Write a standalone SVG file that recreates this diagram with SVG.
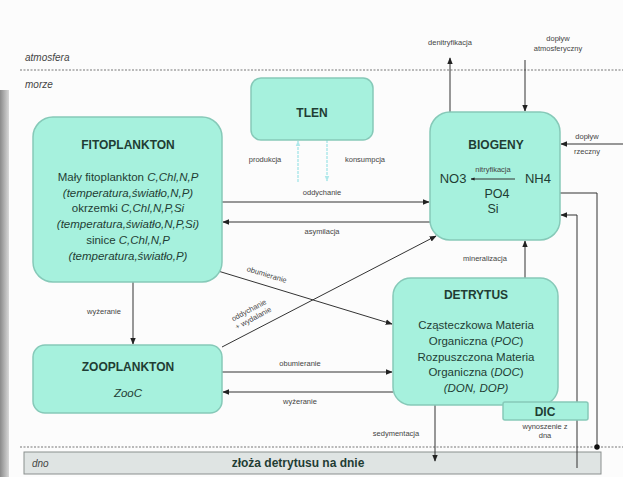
<svg xmlns="http://www.w3.org/2000/svg" width="623" height="477" viewBox="0 0 623 477">
<defs>
<style>
.box{fill:#a6f1dd;stroke:#86c9b8;stroke-width:1.5}
.t{font-family:"Liberation Sans",Arial,sans-serif;fill:#1f3d34;text-anchor:middle}
.b{font-weight:bold;font-size:12px}
.n{font-size:11.5px}
.i{font-style:italic}
.lbl{font-family:"Liberation Sans",Arial,sans-serif;font-size:7.5px;fill:#444;text-anchor:middle}
.zone{font-family:"Liberation Sans",Arial,sans-serif;font-size:10px;font-style:italic;fill:#444}
.ln{stroke:#333;stroke-width:1;fill:none}
.o2{stroke:#aee8ea;stroke-width:1.5;fill:none;stroke-dasharray:3 1}
.dot{stroke:#777;stroke-width:1;stroke-dasharray:2 1.5;fill:none}
</style>
<marker id="ar" viewBox="0 0 10 10" refX="9" refY="5" markerWidth="7" markerHeight="7" orient="auto-start-reverse" markerUnits="userSpaceOnUse"><path d="M0,1 L10,5 L0,9 z" fill="#222"/></marker>
<marker id="arc" viewBox="0 0 10 10" refX="9" refY="5" markerWidth="6" markerHeight="6" orient="auto" markerUnits="userSpaceOnUse"><path d="M0,1 L10,5 L0,9 z" fill="#aee8ea"/></marker>
<marker id="dt" viewBox="0 0 10 10" refX="5" refY="5" markerWidth="6" markerHeight="6" markerUnits="userSpaceOnUse"><circle cx="5" cy="5" r="4.5" fill="#111"/></marker>
<marker id="sm" viewBox="0 0 10 10" refX="9" refY="5" markerWidth="4" markerHeight="4" orient="auto" markerUnits="userSpaceOnUse"><path d="M0,1 L10,5 L0,9 z" fill="#222"/></marker>
<linearGradient id="strip" x1="0" y1="0" x2="1" y2="0"><stop offset="0" stop-color="#8a8a8a"/><stop offset="1" stop-color="#d8d8d8"/></linearGradient>
</defs>
<rect width="623" height="477" fill="#fcfcfc"/>
<rect x="0" y="90" width="9" height="387" fill="url(#strip)"/>

<!-- zones -->
<g id="zones">
<line class="dot" x1="20" y1="70" x2="623" y2="70"/>
<text class="zone" x="25" y="61">atmosfera</text>
<text class="zone" x="25" y="88">morze</text>
<line class="dot" x1="20" y1="447" x2="623" y2="447"/>
</g>

<g id="dno">
<rect x="24" y="452" width="577" height="22" fill="#dfe4e3" stroke="#8a8f8e" stroke-width="1"/>
<text class="zone" x="32" y="467" font-style="normal">dno</text>
<text class="t b" x="298" y="467" font-size="11.5">złoża detrytusu na dnie</text>
</g>

<!-- connectors -->
<g id="connectors">
<line class="ln" x1="222" y1="202" x2="429" y2="202" marker-end="url(#ar)"/>
<text class="lbl" x="322" y="195">oddychanie</text>
<line class="ln" x1="430" y1="222" x2="223" y2="222" marker-end="url(#ar)"/>
<text class="lbl" x="322" y="234">asymilacja</text>

<line class="o2" x1="298" y1="182" x2="298" y2="141" marker-end="url(#arc)"/>
<line class="o2" x1="327" y1="140" x2="327" y2="181" marker-end="url(#arc)"/>
<text class="lbl" x="265" y="162">produkcja</text>
<text class="lbl" x="365" y="162">konsumpcja</text>

<line class="ln" x1="133" y1="282" x2="133" y2="344" marker-end="url(#ar)"/>
<text class="lbl" x="104" y="314">wyżeranie</text>

<line class="ln" x1="218" y1="271" x2="392" y2="324" marker-end="url(#ar)"/>
<text class="lbl" transform="translate(266,277) rotate(17)">obumieranie</text>

<line class="ln" x1="222" y1="347" x2="436" y2="236" marker-end="url(#ar)"/>
<text class="lbl" transform="translate(252,316) rotate(-28)"><tspan x="0" y="-4">oddychanie</tspan><tspan x="0" y="5">+ wydalanie</tspan></text>

<line class="ln" x1="222" y1="372" x2="392" y2="372" marker-end="url(#ar)"/>
<text class="lbl" x="300" y="366">obumieranie</text>
<line class="ln" x1="393" y1="392" x2="223" y2="392" marker-end="url(#ar)"/>
<text class="lbl" x="300" y="404">wyżeranie</text>

<line class="ln" x1="525" y1="278" x2="525" y2="241" marker-end="url(#ar)"/>
<text class="lbl" x="485" y="261">mineralizacja</text>

<line class="ln" x1="435" y1="405" x2="435" y2="461" marker-end="url(#ar)"/>
<text class="lbl" x="396" y="436">sedymentacja</text>

<line class="ln" x1="450" y1="166" x2="450" y2="58" marker-end="url(#ar)"/>
<text class="lbl" x="450" y="45">denitryfikacja</text>

<line class="ln" x1="525" y1="60" x2="525" y2="111" marker-end="url(#ar)"/>
<text class="lbl" x="558" y="41">dopływ</text>
<text class="lbl" x="558" y="51">atmosferyczny</text>

<line class="ln" x1="623" y1="144" x2="561" y2="144" marker-end="url(#ar)"/>
<text class="lbl" x="587" y="139">dopływ</text>
<text class="lbl" x="587" y="154">rzeczny</text>

<polyline class="ln" points="520,193 597,193 597,447" stroke="#444" marker-end="url(#dt)"/>
<polyline class="ln" points="577,468 577,215 561,215" stroke="#444" marker-end="url(#ar)"/>
</g>

<!-- nodes -->
<g id="tlen">
<rect class="box" x="251" y="78" width="122" height="62" rx="10"/>
<text class="t b" x="312" y="117">TLEN</text>
</g>

<g id="fitoplankton">
<rect class="box" x="33" y="117" width="189" height="165" rx="20"/>
<text class="t b" x="128" y="149">FITOPLANKTON</text>
<text class="t n" x="128" y="181">Mały fitoplankton <tspan class="i">C,Chl,N,P</tspan></text>
<text class="t n i" x="128" y="197">(temperatura,światło,N,P)</text>
<text class="t n" x="128" y="212">okrzemki <tspan class="i">C,Chl,N,P,Si</tspan></text>
<text class="t n i" x="128" y="228">(temperatura,światło,N,P,Si)</text>
<text class="t n" x="128" y="244">sinice <tspan class="i">C,Chl,N,P</tspan></text>
<text class="t n i" x="128" y="260">(temperatura,światło,P)</text>
</g>

<g id="biogeny">
<rect class="box" x="430" y="112" width="130" height="128" rx="20"/>
<text class="t b" x="496" y="149">BIOGENY</text>
<text class="t" x="453" y="183" font-size="13">NO3</text>
<text class="t" x="538" y="183" font-size="13">NH4</text>
<text class="t" x="497" y="198" font-size="12.5">PO4</text>
<text class="t" x="493" y="213" font-size="12.5">Si</text>
<line class="ln" x1="515" y1="179" x2="471" y2="179" stroke-width="0.8" marker-end="url(#sm)"/>
<text class="lbl" x="493" y="172" font-size="5.5">nitryfikacja</text>
</g>

<g id="zooplankton">
<rect class="box" x="33" y="345" width="189" height="68" rx="12"/>
<text class="t b" x="128" y="371">ZOOPLANKTON</text>
<text class="t n i" x="128" y="397">ZooC</text>
</g>

<g id="detrytus">
<rect class="box" x="393" y="278" width="165" height="127" rx="18"/>
<text class="t b" x="476" y="299">DETRYTUS</text>
<text class="t n" x="476" y="329">Cząsteczkowa Materia</text>
<text class="t n" x="476" y="345">Organiczna (<tspan class="i">POC</tspan>)</text>
<text class="t n" x="476" y="361">Rozpuszczona Materia</text>
<text class="t n" x="476" y="376">Organiczna (<tspan class="i">DOC</tspan>)</text>
<text class="t n i" x="476" y="392">(DON, DOP)</text>
</g>

<g id="dic">
<rect class="box" x="503" y="402" width="85" height="18" rx="2"/>
<text class="t b" x="545" y="416">DIC</text>
<text class="lbl" x="545" y="429">wynoszenie z</text>
<text class="lbl" x="545" y="438">dna</text>
</g>
</svg>
